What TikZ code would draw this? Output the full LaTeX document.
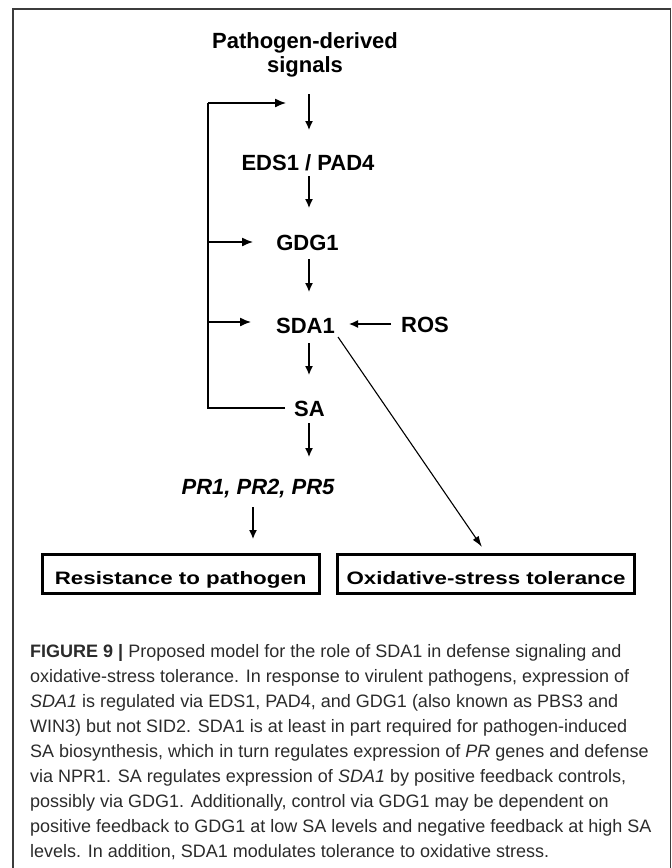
\documentclass[tikz,border=0pt]{standalone}
\usepackage{fontspec}
\setmainfont{Liberation Sans}
\usetikzlibrary{arrows.meta}
\definecolor{framegray}{HTML}{3C3C3C}
\definecolor{captext}{HTML}{2B2B2B}
\begin{document}
\begin{tikzpicture}[x=1pt,y=-1pt,
  lbl/.style={anchor=base, inner sep=0pt, font=\fontsize{22}{24}\selectfont\bfseries},
  outbox/.style={draw=black, line width=3pt, inner sep=0pt, minimum height=38.5pt,
    text height=20.6pt, text depth=0pt},
  boxtext/.style={},
  capline/.style={anchor=base west, inner sep=0pt, text=captext, font=\fontsize{18}{20}\selectfont},
  arr/.style={line width=1.3pt, -{Latex[length=9pt,width=8pt]}},
  fbarr/.style={line width=1.3pt, -{Latex[length=11pt,width=9pt]}},
  diagarr/.style={line width=1.1pt, -{Latex[length=11pt,width=7pt]}},
  fbline/.style={line width=1.3pt},
  framestyle/.style={draw=framegray, line width=1.3pt}]
\useasboundingbox (0,0) rectangle (672,868);
% frame
\coordinate (fbl) at (13,875);
\coordinate (ftl) at (13,9);
\coordinate (ftr) at (670.5,9);
\coordinate (fbr) at (670.5,875);
\draw[framestyle] (fbl) -- (ftl) -- (ftr) -- (fbr);
% labels
\node[lbl] (path1) at (305,48) {Pathogen-derived};
\node[lbl] (path2) at (305,72) {signals};
\node[lbl] (eds) at (308,170) {EDS1 / PAD4};
\node[lbl] (gdg) at (307.5,250) {GDG1};
\node[lbl] (sda) at (305.5,333) {SDA1};
\node[lbl] (ros) at (425,332) {ROS};
\node[lbl] (sa) at (309.5,416) {SA};
\node[lbl, font=\fontsize{22}{24}\selectfont\bfseries\itshape] (pr) at (258,494) {PR1, PR2, PR5};
% output boxes
\node[outbox, minimum width=277.2pt] (res) at (180.7,574.2)
  {\scalebox{1.24}[1]{\fontsize{18}{20}\selectfont\bfseries Resistance to pathogen}};
\node[outbox, minimum width=296.6pt] (ox) at (486.1,574.2)
  {\scalebox{1.24}[1]{\fontsize{18}{20}\selectfont\bfseries Oxidative-stress tolerance}};
% arrow end points
\coordinate (a1s) at (309,94);   \coordinate (a1e) at (309,130);
\coordinate (a2s) at (309,176);  \coordinate (a2e) at (309,208);
\coordinate (a3s) at (309,259);  \coordinate (a3e) at (309,292);
\coordinate (a4s) at (309,343);  \coordinate (a4e) at (309,375);
\coordinate (a5s) at (309,423);  \coordinate (a5e) at (309,457);
\coordinate (a6s) at (253,507);  \coordinate (a6e) at (253,539);
\coordinate (rosS) at (391,324); \coordinate (rosE) at (349,324);
\coordinate (dgS) at (338,337);  \coordinate (dgE) at (482,547);
\coordinate (fbSA) at (285,408);
\coordinate (fbCorner) at (208,408);
\coordinate (fbTop) at (208,103);
\coordinate (fbTopE) at (286,103);
\coordinate (fbG) at (208,242);  \coordinate (fbGE) at (253,242);
\coordinate (fbS) at (208,322);  \coordinate (fbSE) at (251,322);
% main chain
\draw[arr] (a1s) -- (a1e);
\draw[arr] (a2s) -- (a2e);
\draw[arr] (a3s) -- (a3e);
\draw[arr] (a4s) -- (a4e);
\draw[arr] (a5s) -- (a5e);
\draw[arr] (a6s) -- (a6e);
\draw[arr] (rosS) -- (rosE);
\draw[diagarr] (dgS) -- (dgE);
% feedback loop
\draw[fbline] (fbSA) -- (fbCorner) -- (fbTop);
\draw[fbarr] (fbTop) -- (fbTopE);
\draw[fbarr] (fbG) -- (fbGE);
\draw[fbarr] (fbS) -- (fbSE);
% caption
\node[capline] (c1) at (30,657) {\textbf{FIGURE 9 |} Proposed model for the role of SDA1 in defense signaling and};
\node[capline] (c2) at (30,682) {oxidative-stress tolerance. In response to virulent pathogens, expression of};
\node[capline] (c3) at (30,707) {\textit{SDA1} is regulated via EDS1, PAD4, and GDG1 (also known as PBS3 and};
\node[capline] (c4) at (30,732) {WIN3) but not SID2. SDA1 is at least in part required for pathogen-induced};
\node[capline] (c5) at (30,757) {SA biosynthesis, which in turn regulates expression of \textit{PR} genes and defense};
\node[capline] (c6) at (30,782) {via NPR1. SA regulates expression of \textit{SDA1} by positive feedback controls,};
\node[capline] (c7) at (30,807) {possibly via GDG1. Additionally, control via GDG1 may be dependent on};
\node[capline] (c8) at (30,832) {positive feedback to GDG1 at low SA levels and negative feedback at high SA};
\node[capline] (c9) at (30,857) {levels. In addition, SDA1 modulates tolerance to oxidative stress.};
\end{tikzpicture}
\end{document}
